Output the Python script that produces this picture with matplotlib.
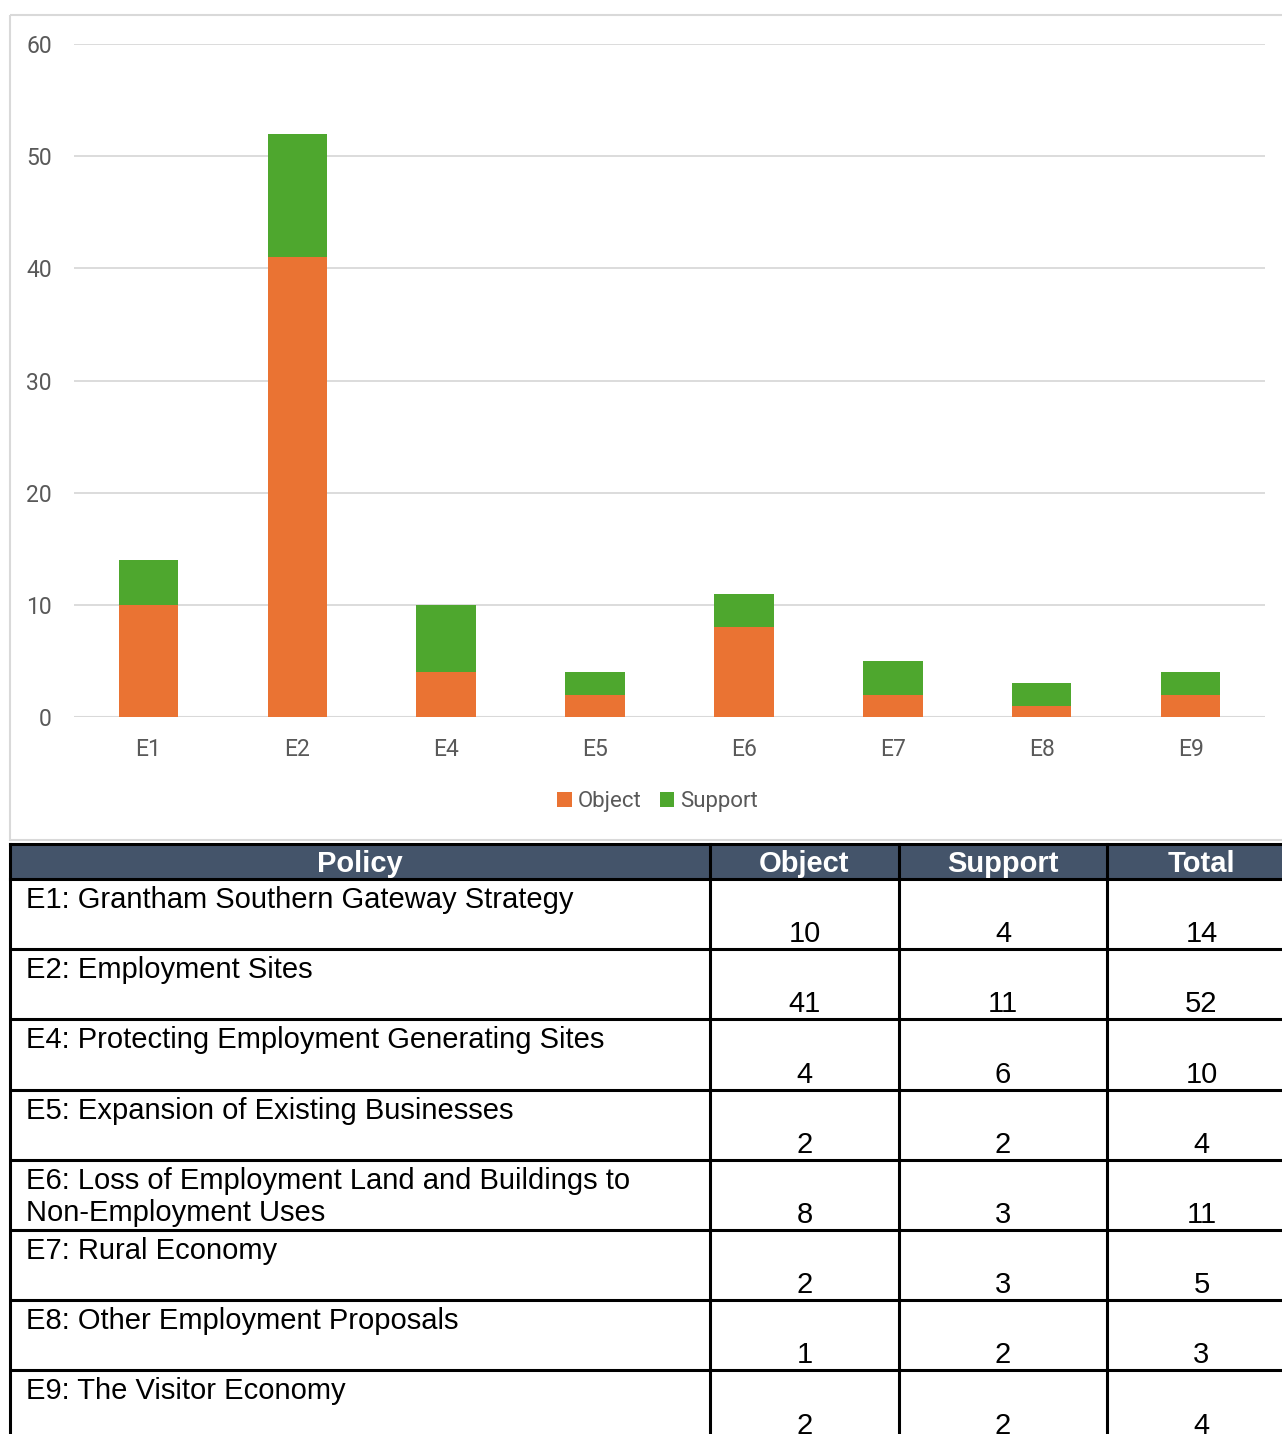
import matplotlib.pyplot as plt
from matplotlib.patches import Rectangle

# data
cats = ["E1", "E2", "E4", "E5", "E6", "E7", "E8", "E9"]
obj = [10, 41, 4, 2, 8, 2, 1, 2]
sup = [4, 11, 6, 2, 3, 3, 2, 2]
policies = [
    "E1: Grantham Southern Gateway Strategy",
    "E2: Employment Sites",
    "E4: Protecting Employment Generating Sites",
    "E5: Expansion of Existing Businesses",
    "E6: Loss of Employment Land and Buildings to\nNon-Employment Uses",
    "E7: Rural Economy",
    "E8: Other Employment Proposals",
    "E9: The Visitor Economy",
]
headers = ["Policy", "Object", "Support", "Total"]

W, H = 1282, 1434
fig = plt.figure(figsize=(W / 100, H / 100), dpi=100)
fig.patch.set_facecolor("white")

# overlay axes in pixel coords for the frame and table
bg = fig.add_axes([0, 0, 1, 1])
bg.set_xlim(0, W)
bg.set_ylim(H, 0)
bg.axis("off")

# chart frame
bg.add_patch(Rectangle((10, 15), 1290, 825, fill=False, ec="#D9D9D9", lw=1.5))

# chart axes
x0, x1, ytop, ybot = 74, 1265, 44, 717
ax = fig.add_axes([x0 / W, 1 - ybot / H, (x1 - x0) / W, (ybot - ytop) / H])
orange = "#EA7333"
green = "#4EA72E"
xs = range(len(cats))
ax.bar(xs, obj, width=0.4, color=orange, label="Object", zorder=3)
ax.bar(xs, sup, width=0.4, bottom=obj, color=green, label="Support", zorder=3)
ax.set_xlim(-0.5, len(cats) - 0.5)
ax.set_ylim(0, 60)
ax.set_yticks(range(0, 61, 10))
ax.grid(axis="y", color="#D9D9D9", lw=1.3, zorder=0)
for s in ax.spines.values():
    s.set_visible(False)
ax.axhline(0, color="#D9D9D9", lw=1.5, zorder=2)
ax.tick_params(length=0, labelsize=16.5, labelcolor="#595959")
ax.tick_params(axis="y", pad=16)
ax.tick_params(axis="x", pad=15)
ax.set_xticks(list(xs))
ax.set_xticklabels(cats)
for t in ax.get_xticklabels() + ax.get_yticklabels():
    t.set_fontfamily("Roboto")
leg = ax.legend(loc="center", bbox_to_anchor=(0.49, -0.126), ncol=2, frameon=False,
                handlelength=0.65, handleheight=0.65, handletextpad=0.25, columnspacing=0.85,
                prop={"family": "Roboto", "size": 16})
for t in leg.get_texts():
    t.set_color("#595959")

# table
cols = [10, 710, 899, 1107, 1296]
hdr_top, hdr_bot = 844, 879
row_h = 70.2
bg.add_patch(Rectangle((cols[0], hdr_top), cols[-1] - cols[0], hdr_bot - hdr_top,
                       fc="#44546A", ec="none"))
font = "Liberation Sans"
for i, h in enumerate(headers):
    cx = (cols[i] + cols[i + 1]) / 2
    bg.text(cx, (hdr_top + hdr_bot) / 2 + 3, h, ha="center", va="center", color="white",
            fontsize=21, fontweight="bold", family=font)

lw = 2.2
nrows = len(policies)
for r in range(nrows):
    top = hdr_bot + r * row_h
    bot = top + row_h
    bg.text(26, top + 7, policies[r], ha="left", va="top", fontsize=21, family=font,
            color="black", linespacing=1.2)
    vals = [obj[r], sup[r], obj[r] + sup[r]]
    for j, v in enumerate(vals):
        cx = (cols[j + 1] + cols[j + 2]) / 2
        bg.text(cx, bot - 1, str(v), ha="center", va="bottom", fontsize=21, family=font,
                color="black")
    bg.plot([cols[0], cols[-1]], [bot, bot], color="black", lw=lw, solid_capstyle="butt")

bg.plot([cols[0], cols[-1]], [hdr_top, hdr_top], color="black", lw=lw)
bg.plot([cols[0], cols[-1]], [hdr_bot, hdr_bot], color="black", lw=lw)
for c in cols[:-1]:
    bg.plot([c, c], [hdr_top, H + 10], color="black", lw=lw)

fig.savefig("out.png", dpi=100)
